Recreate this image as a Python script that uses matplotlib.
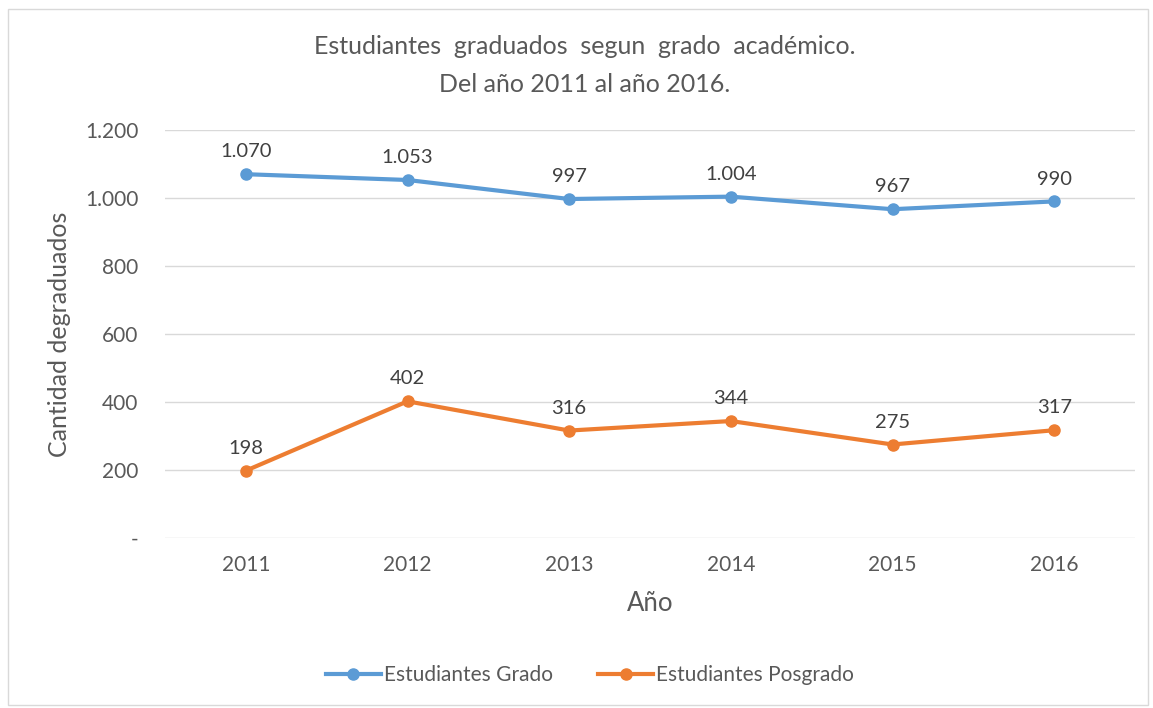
import matplotlib
matplotlib.use("Agg")
import matplotlib.pyplot as plt
from matplotlib.ticker import FuncFormatter
from matplotlib.patches import Rectangle

years = ["2011", "2012", "2013", "2014", "2015", "2016"]
grado = [1070, 1053, 997, 1004, 967, 990]
posgrado = [198, 402, 316, 344, 275, 317]
yticks = [0, 200, 400, 600, 800, 1000, 1200]

plt.rcParams['font.family'] = ['Lato', 'DejaVu Sans']
txt = "#595959"

fig = plt.figure(figsize=(11.53, 7.08), dpi=100)
fig.patches.append(Rectangle((8/1153, 1-705/708), 1140/1153, 696/708, transform=fig.transFigure,
                             fill=False, edgecolor="#d9d9d9", linewidth=1.0))
ax = fig.add_axes([165/1153, 1-538/708, 970/1153, 408/708])

x = list(range(len(years)))
ax.plot(x, grado, color="#5B9BD5", lw=3, marker="o", ms=8, label="Estudiantes Grado", zorder=3)
ax.plot(x, posgrado, color="#ED7D31", lw=3, marker="o", ms=8, label="Estudiantes Posgrado", zorder=3)

def fmt(v):
    return f"{v:,.0f}".replace(",", ".")

for xi, v in zip(x, grado):
    ax.annotate(fmt(v), (xi, v), xytext=(0, 10), textcoords="offset points",
                ha="center", va="bottom", fontsize=14.5, color="#404040")
for xi, v in zip(x, posgrado):
    ax.annotate(fmt(v), (xi, v), xytext=(0, 10), textcoords="offset points",
                ha="center", va="bottom", fontsize=14.5, color="#404040")

ax.set_xlim(-0.5, len(years) - 0.5)
ax.set_ylim(0, 1200)
ax.set_yticks(yticks)
ax.yaxis.set_major_formatter(FuncFormatter(lambda v, p: "-" if v == 0 else fmt(v)))
ax.set_xticks(x)
ax.set_xticklabels(years)
ax.grid(axis="y", color="#d9d9d9", lw=1)
ax.set_axisbelow(True)
for s in ax.spines.values():
    s.set_visible(False)
ax.tick_params(length=0, labelsize=15, labelcolor=txt, pad=12)
ax.tick_params(axis="y", pad=19)

ax.set_xlabel("Año", fontsize=18.5, color=txt, labelpad=12)
ax.set_ylabel("Cantidad degraduados", fontsize=18, color=txt, labelpad=10)

fig.text(585/1153, 1-47/708, "Estudiantes  graduados  segun  grado  académico.", ha="center", va="center",
         fontsize=18, color=txt)
fig.text(585/1153, 1-84/708, "Del año 2011 al año 2016.", ha="center", va="center", fontsize=18, color=txt)

fig.legend(loc="center", bbox_to_anchor=(590/1153, 1-675/708), ncol=2, frameon=False,
           fontsize=15, labelcolor=txt, handlelength=2.6, columnspacing=2.2, handletextpad=0.15)

fig.savefig("out.png", dpi=100)
